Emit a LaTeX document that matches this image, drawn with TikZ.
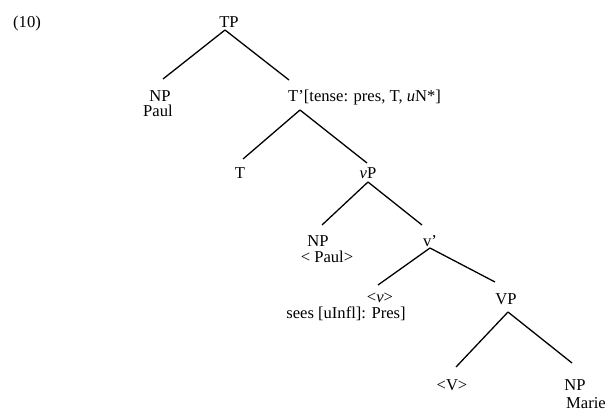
\documentclass[tikz,border=0pt]{standalone}
\usepackage{fontspec}
\setmainfont{Liberation Serif}
\begin{document}
\begin{tikzpicture}[x=1pt,y=-1pt,
  lab/.style={inner sep=0pt,anchor=base,font=\fontsize{16.6}{18}\selectfont},
  labl/.style={lab,anchor=base west},
  br/.style={line width=1.3pt}]
\useasboundingbox (0,0) rectangle (608,420);
\node[labl] (ex) at (13,28) {(10)};
\node[lab] (TP) at (229,28) {TP};
\node[lab] (NP1) at (160,101) {NP};
\node[lab] (Paul1) at (158,116) {Paul};
\node[labl] (Tbar) at (288,101) {T’[tense: pres, T, \textit{u}N*]};
\node[lab] (T) at (240,178) {T};
\node[lab] (vP) at (368,178) {\textit{v}P};
\node[lab] (NP2) at (318,246) {NP};
\node[lab] (Paul2) at (327,262) {< Paul>};
\node[lab] (vbar) at (430,246) {v’};
\node[lab] (vtr) at (380,302) {<\textit{v}>};
\node[lab] (sees) at (346,318) {sees [uInfl]: Pres]};
\node[lab] (VP) at (506,304) {VP};
\node[lab] (Vtr) at (452,390) {<V>};
\node[lab] (NP3) at (575,390) {NP};
\node[labl] (Marie) at (566,408) {Marie};
% connector ends
\coordinate (TPb) at (225,30);
\coordinate (NP1t) at (163,79);
\coordinate (Tbart) at (289,80);
\coordinate (Tbarb) at (300,110);
\coordinate (Tt) at (243,159);
\coordinate (vPt) at (367,163);
\coordinate (vPb) at (368,182);
\coordinate (NP2t) at (322,225);
\coordinate (vbart) at (422,225);
\coordinate (vbarb) at (430,248);
\coordinate (vtrt) at (378,285);
\coordinate (VPt) at (495,282);
\coordinate (VPb) at (508,312);
\coordinate (Vtrt) at (456,367);
\coordinate (NP3t) at (572,363);
\draw[br] (TPb) -- (NP1t);
\draw[br] (TPb) -- (Tbart);
\draw[br] (Tbarb) -- (Tt);
\draw[br] (Tbarb) -- (vPt);
\draw[br] (vPb) -- (NP2t);
\draw[br] (vPb) -- (vbart);
\draw[br] (vbarb) -- (vtrt);
\draw[br] (vbarb) -- (VPt);
\draw[br] (VPb) -- (Vtrt);
\draw[br] (VPb) -- (NP3t);
\end{tikzpicture}
\end{document}
